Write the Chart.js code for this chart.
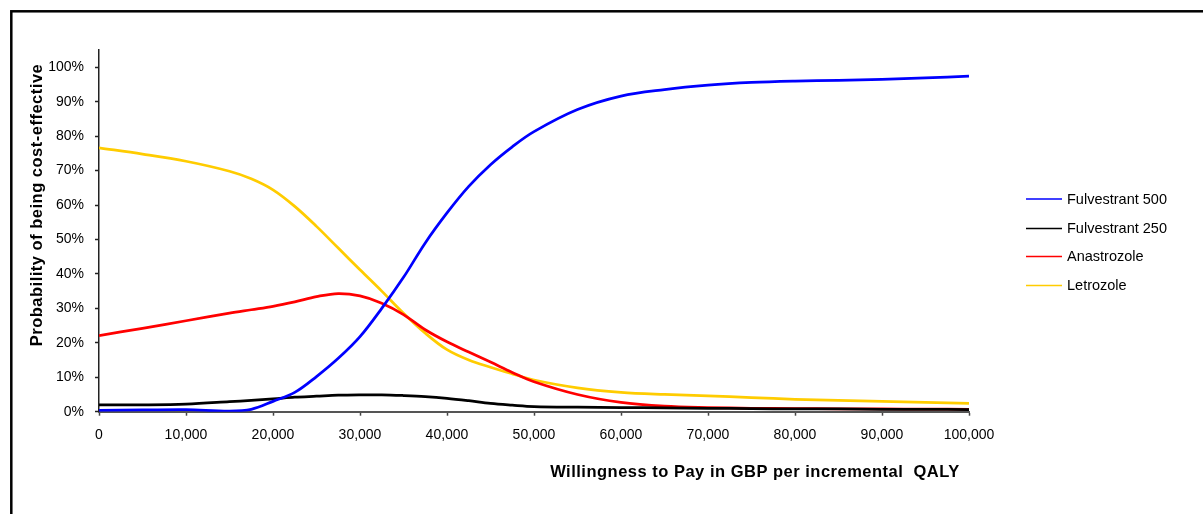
<!DOCTYPE html>
<html>
<head>
<meta charset="utf-8">
<title>Cost-effectiveness acceptability curve</title>
<script src="https://cdn.jsdelivr.net/npm/chart.js@4"></script>
<style>
    html, body { margin: 0; padding: 0; background: #fff; }
    canvas { display: block; }
</style>
</head>
<body>
<canvas id="ceacChart" width="1203" height="514"></canvas>
<script>
// willingness to pay (GBP per QALY)
const wtpValues = [0, 5000, 10000, 15000, 17500, 20000, 22500, 25000, 27500, 30000, 32500, 35000, 37500,
    40000, 42500, 45000, 47500, 50000, 55000, 60000, 65000, 70000, 75000, 80000, 85000, 90000, 95000, 100000];

// probability of being cost-effective in %
const fulvestrant500 = [0.4, 0.5, 0.6, 0.2, 0.7, 3.0, 5.6, 10.2, 15.5, 21.8, 30.0, 39.0, 49.0,
    57.7, 65.4, 71.7, 76.9, 81.3, 87.7, 91.6, 93.5, 94.8, 95.6, 96.0, 96.2, 96.5, 96.9, 97.4];
const fulvestrant250 = [2.0, 2.0, 2.2, 2.9, 3.3, 3.7, 4.2, 4.5, 4.8, 4.9, 4.9, 4.7, 4.4,
    3.9, 3.2, 2.4, 1.9, 1.5, 1.3, 1.2, 1.1, 1.0, 0.9, 0.8, 0.8, 0.7, 0.7, 0.6];
const anastrozole = [22.1, 24.2, 26.4, 28.6, 29.6, 30.6, 31.9, 33.4, 34.3, 33.6, 31.5, 28.2, 23.8,
    20.3, 17.3, 14.4, 11.4, 8.7, 5.0, 2.7, 1.6, 1.2, 1.0, 0.9, 0.85, 0.8, 0.75, 0.7];
const letrozole = [76.6, 74.8, 72.7, 69.8, 67.6, 64.4, 59.6, 53.8, 47.5, 41.2, 35.0, 28.6, 22.8,
    18.0, 15.0, 12.9, 11.0, 9.2, 6.9, 5.6, 5.0, 4.6, 4.1, 3.6, 3.3, 3.0, 2.7, 2.4];

const seriesNames = ['Fulvestrant 500', 'Fulvestrant 250', 'Anastrozole', 'Letrozole'];
const seriesColors = ['#0000ff', '#000000', '#ff0000', '#ffcc00'];

const xTitle = 'Willingness to Pay in GBP per incremental  QALY';
const yTitle = 'Probability of being cost-effective';

function toPoints(values) {
    return wtpValues.map((x, i) => ({x: x, y: values[i]}));
}

// frame, axis titles and legend are drawn by hand
const decorations = {
    id: 'decorations',
    beforeDraw(chart) {
        const ctx = chart.ctx;
        ctx.save();
        ctx.strokeStyle = '#000';
        ctx.lineWidth = 2.5;
        ctx.strokeRect(11.3, 11.3, 1400, 800);
        ctx.restore();
    },
    afterDraw(chart) {
        const ctx = chart.ctx;
        ctx.save();
        ctx.fillStyle = '#000';
        ctx.font = 'bold 16.5px "Liberation Sans", Arial, sans-serif';
        ctx.letterSpacing = '0.5px';
        ctx.textBaseline = 'middle';
        ctx.textAlign = 'center';
        ctx.fillText(xTitle, 755, 472);

        ctx.translate(37, 205);
        ctx.rotate(-Math.PI / 2);
        ctx.fillText(yTitle, 0, 0);
        ctx.restore();

        // legend
        ctx.save();
        ctx.font = '14.5px "Liberation Sans", Arial, sans-serif';
        ctx.textBaseline = 'middle';
        ctx.textAlign = 'left';
        const legendY = [199, 228.5, 256.5, 285.5];
        chart.data.datasets.forEach((ds, i) => {
            ctx.strokeStyle = ds.borderColor;
            ctx.lineWidth = 1.5;
            ctx.beginPath();
            ctx.moveTo(1026, legendY[i]);
            ctx.lineTo(1062, legendY[i]);
            ctx.stroke();
            ctx.fillStyle = '#000';
            ctx.fillText(ds.label, 1067, legendY[i] + 0.5);
        });
        ctx.restore();
    }
};

new Chart('ceacChart', {
    type: 'line',
    data: {
        datasets: [fulvestrant500, fulvestrant250, anastrozole, letrozole].map((values, i) => ({
            label: seriesNames[i],
            data: toPoints(values),
            borderColor: seriesColors[i],
            backgroundColor: seriesColors[i],
            borderWidth: 2.75,
            pointRadius: 0,
            fill: false,
            tension: 0.35
        }))
    },
    options: {
        responsive: false,
        animation: false,
        devicePixelRatio: 1,
        layout: {padding: {left: 0, top: 50, right: 234, bottom: 0}},
        plugins: {
            legend: {display: false},
            tooltip: {enabled: false}
        },
        scales: {
            x: {
                type: 'linear',
                min: 0,
                max: 100000,
                grid: {drawOnChartArea: false, drawTicks: true, tickLength: 4, color: '#444', tickWidth: 1.5},
                border: {color: '#555', width: 2},
                ticks: {
                    stepSize: 10000,
                    padding: 11,
                    color: '#000',
                    font: {family: '"Liberation Sans", Arial, sans-serif', size: 14},
                    maxRotation: 0,
                    callback: v => v.toLocaleString('en-US')
                },
                afterFit: scale => { scale.height = 102.3; }
            },
            y: {
                min: 0,
                max: 105,
                grid: {drawOnChartArea: false, drawTicks: true, tickLength: 4, color: '#222', tickWidth: 1.5},
                border: {color: '#222', width: 1.5},
                ticks: {
                    stepSize: 10,
                    padding: 11,
                    color: '#000',
                    font: {family: '"Liberation Sans", Arial, sans-serif', size: 14},
                    callback: v => v + '%'
                },
                afterBuildTicks: scale => {
                    scale.ticks = scale.ticks.filter(t => t.value <= 100.001);
                },
                afterFit: scale => { scale.width = 99; }
            }
        }
    },
    plugins: [decorations]
});
</script>
</body>
</html>
